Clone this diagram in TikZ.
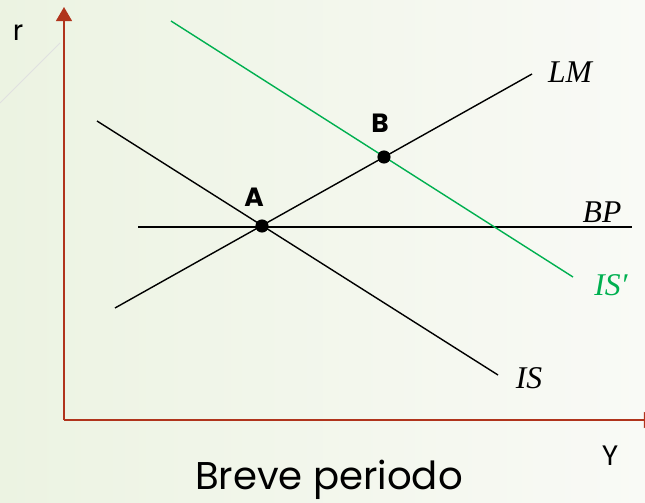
\documentclass[tikz,border=0pt]{standalone}
\usepackage{fontspec}
\setmainfont{Poppins}
\newfontfamily\curvefont{Liberation Serif}
\usepackage{xcolor}
\usepackage{tikz}
\usetikzlibrary{arrows.meta}
\usetikzlibrary{calc,positioning}

\definecolor{asrood}{RGB}{176,52,28}
\definecolor{isgroen}{RGB}{0,176,80}
\definecolor{achterlinks}{RGB}{236,243,226}
\definecolor{achterrechts}{RGB}{249,250,246}

\tikzset{
    curve/.style={line width=0.8pt, black},
    punt/.style={circle, fill=black, inner sep=0pt, minimum size=7.5pt},
    letter/.style={font=\bfseries\fontsize{15}{17}\selectfont},
    curvelabel/.style={font=\curvefont\itshape\fontsize{18}{20}\selectfont},
}

\begin{document}
\begin{tikzpicture}[x=0.02cm, y=-0.02cm]

    % Achtergrond
    \useasboundingbox (0,0) rectangle (645,503);
    \shade[left color=achterlinks, right color=achterrechts] (0,0) rectangle (645,503);
    \draw[black!12, line width=0.6pt] (0,103) -- (60,43);

    % Assen
    \coordinate (O) at (64,420);
    \coordinate (top) at (64,7);
    \coordinate (right) at (658,420);
    \draw[asrood, line width=1.1pt, -{Triangle[width=9pt,length=8pt]}] (O) -- (top);
    \draw[asrood, line width=1.1pt, -{Triangle[width=9pt,length=8pt]}] (O) -- (right);
    \node[font=\fontsize{16}{18}\selectfont] (r) at (18,33) {r};
    \node[font=\fontsize{16}{18}\selectfont] (Y) at (610,456) {Y};
    \node[font=\fontsize{22}{26}\selectfont] (titel) at (329,480) {Breve periodo};

    % Curves
    \coordinate (LM1) at (115,308);
    \coordinate (LM2) at (532,74);
    \coordinate (IS1) at (97,121);
    \coordinate (IS2) at (498,375);
    \coordinate (BP1) at (138,227);
    \coordinate (BP2) at (632,227);
    \coordinate (ISa1) at (171,21);
    \coordinate (ISa2) at (573,277);

    \draw[curve] (LM1) -- (LM2);
    \draw[curve] (IS1) -- (IS2);
    \draw[curve, line width=1pt] (BP1) -- (BP2);
    \draw[curve, isgroen] (ISa1) -- (ISa2);

    % Labels
    \node[curvelabel] (LM) at (570,72) {LM};
    \node[curvelabel] (IS) at (529,378) {IS};
    \node[curvelabel] (BP) at (602,212) {BP};
    \node[curvelabel, text=isgroen] (ISa) at (611,285) {IS′};

    % Evenwichtspunten
    \node[punt] (A) at (262,226) {};
    \node[punt] (B) at (384,157) {};
    \node[letter] (la) at (254,197) {A};
    \node[letter] (lb) at (380,123) {B};
\end{tikzpicture}
\end{document}
